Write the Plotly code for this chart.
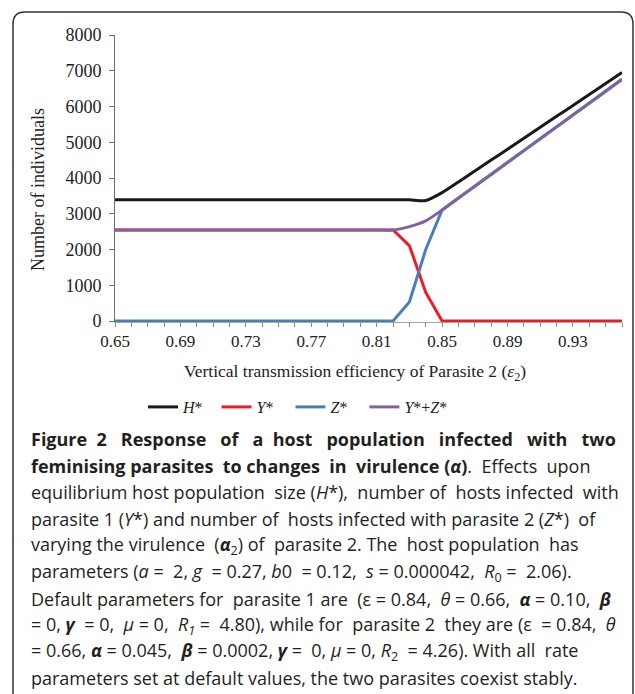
import plotly.graph_objects as go

# ---------------- data ----------------
eps2 = [0.65, 0.66, 0.67, 0.68, 0.69, 0.70, 0.71, 0.72, 0.73, 0.74, 0.75,
        0.76, 0.77, 0.78, 0.79, 0.80, 0.81, 0.82, 0.83, 0.84, 0.85, 0.86,
        0.87, 0.88, 0.89, 0.90, 0.91, 0.92, 0.93, 0.94, 0.95, 0.96]

H_star = [3390, 3390, 3390, 3390, 3390, 3390, 3390, 3390, 3390, 3390, 3390,
          3390, 3390, 3390, 3390, 3390, 3390, 3390, 3390, 3370, 3590, 3890,
          4195, 4500, 4805, 5110, 5420, 5725, 6030, 6335, 6640, 6950]

Y_star = [2545, 2545, 2545, 2545, 2545, 2545, 2545, 2545, 2545, 2545, 2545,
          2545, 2545, 2545, 2545, 2545, 2545, 2545, 2110, 800, 0, 0,
          0, 0, 0, 0, 0, 0, 0, 0, 0, 0]

Z_star = [0, 0, 0, 0, 0, 0, 0, 0, 0, 0, 0,
          0, 0, 0, 0, 0, 0, 0, 530, 2000, 3105, 3440,
          3770, 4100, 4435, 4765, 5100, 5430, 5760, 6095, 6425, 6760]

YZ_star = [y + z for y, z in zip(Y_star, Z_star)]

y_ticks = [0, 1000, 2000, 3000, 4000, 5000, 6000, 7000, 8000]
x_tick_labels = [0.65, 0.69, 0.73, 0.77, 0.81, 0.85, 0.89, 0.93]

caption_lines = [
    "<b>Figure 2 Response of a host population infected with two</b>",
    "<b>feminising parasites to changes in virulence (<i>α</i>)</b>. Effects upon",
    "equilibrium host population size (<i>H</i>*), number of hosts infected with",
    "parasite 1 (<i>Y</i>*) and number of hosts infected with parasite 2 (<i>Z</i>*) of",
    "varying the virulence (<b><i>α</i></b><sub>2</sub>) of parasite 2. The host population has",
    "parameters (<i>a</i> = 2, <i>g</i> = 0.27, <i>b</i>0 = 0.12, <i>s</i> = 0.000042, <i>R</i><sub>0</sub> = 2.06).",
    "Default parameters for parasite 1 are (ε = 0.84, <i>θ</i> = 0.66, <b><i>α</i></b> = 0.10, <b><i>β</i></b>",
    "= 0, <b><i>γ</i></b> = 0, <i>μ</i> = 0, <i>R</i><sub><i>1</i></sub> = 4.80), while for parasite 2 they are (ε = 0.84, <i>θ</i>",
    "= 0.66, <b><i>α</i></b> = 0.045, <b><i>β</i></b> = 0.0002, <b><i>γ</i></b> = 0, <i>μ</i> = 0, <i>R</i><sub>2</sub> = 4.26). With all rate",
    "parameters set at default values, the two parasites coexist stably.",
]
# extra word spacing (in non-breaking spaces) to imitate the justified caption
caption_extra_spaces = [16, 5, 4, 2, 4, 6, 5, 8, 4, 0]

# ---------------- layout geometry (pixels) ----------------
W, HGT = 635, 694
L, R, T, B = 115, 13, 35, 372
PW = W - L - R
PH = HGT - T - B
PLOT_BOTTOM = HGT - B


def pxx(x):
    return (x - L) / PW


def pxy(y):
    return (PLOT_BOTTOM - y) / PH


NB = "\u00a0"


def justify(line, extra):
    words = line.split(" ")
    gaps = len(words) - 1
    if gaps <= 0 or extra <= 0:
        return line
    out = words[0]
    for g in range(gaps):
        n = extra * (g + 1) // gaps - extra * g // gaps
        out += " " + NB * n + words[g + 1]
    return out


serif = "Liberation Serif, Times New Roman, serif"
sans = "Open Sans, Noto Sans, sans-serif"

fig = go.Figure()
series = [
    ("<i>H</i>*" + NB * 2, H_star, "#1a1a1a", "spline"),
    ("<i>Y</i>*" + NB * 3, Y_star, "#ee1c24", "linear"),
    ("<i>Z</i>*" + NB * 3, Z_star, "#4a7ebb", "linear"),
    ("<i>Y</i>*+<i>Z</i>*", YZ_star, "#7f62a1", "spline"),
]
for name, vals, col, shp in series:
    fig.add_trace(go.Scatter(
        x=eps2, y=vals, name=name, mode="lines",
        line=dict(color=col, width=3, shape=shp, smoothing=0.6 if shp == "spline" else None),
        hoverinfo="skip",
    ))

fig.update_xaxes(
    range=[0.65, 0.96], showgrid=False, zeroline=False,
    showline=True, linecolor="#a6a6a6", linewidth=1,
    tickmode="array", tickvals=x_tick_labels,
    ticktext=[f"{v:.2f}" for v in x_tick_labels],
    ticks="outside", ticklen=4, tickcolor="#8c8c8c", tickwidth=1,
    minor=dict(dtick=0.01, tick0=0.65, ticks="outside", ticklen=4,
               tickcolor="#8c8c8c", tickwidth=1, showgrid=False),
    tickfont=dict(family=serif, size=17, color="#222"),
)
fig.update_yaxes(
    range=[-28, 8000], showgrid=False, zeroline=False,
    showline=True, linecolor="#6e6e6e", linewidth=1,
    tickmode="array", tickvals=y_ticks, ticktext=[str(v) for v in y_ticks],
    ticks="outside", ticklen=5, tickcolor="#6e6e6e", tickwidth=1,
    ticklabelstandoff=4,
    tickfont=dict(family=serif, size=18, color="#222"),
)

annotations = [
    dict(text="Vertical transmission efficiency of Parasite 2 (<i>ε</i><sub>2</sub>)",
         x=pxx(355), y=pxy(372), xref="paper", yref="paper",
         xanchor="center", yanchor="middle", showarrow=False,
         font=dict(family=serif, size=17.5, color="#222")),
    dict(text="Number of individuals", textangle=-90,
         x=pxx(38), y=pxy(190), xref="paper", yref="paper",
         xanchor="center", yanchor="middle", showarrow=False,
         font=dict(family=serif, size=18, color="#222")),
]
cap_y0, cap_dy = 439, 26.6
for i, (line, extra) in enumerate(zip(caption_lines, caption_extra_spaces)):
    annotations.append(dict(
        text=justify(line, extra), x=pxx(29), y=pxy(cap_y0 + i * cap_dy),
        xref="paper", yref="paper", xanchor="left", yanchor="middle",
        showarrow=False, align="left",
        font=dict(family=sans, size=18, color="#231f20"),
    ))

border = (f"M {pxx(13)},{pxy(700)} L {pxx(13)},{pxy(24)} "
          f"Q {pxx(13)},{pxy(12)} {pxx(25)},{pxy(12)} "
          f"L {pxx(621)},{pxy(12)} Q {pxx(633)},{pxy(12)} {pxx(633)},{pxy(24)} "
          f"L {pxx(633)},{pxy(700)}")

fig.update_layout(
    width=W, height=HGT,
    margin=dict(l=L, r=R, t=T, b=B, pad=0),
    paper_bgcolor="white", plot_bgcolor="white",
    showlegend=True,
    legend=dict(orientation="h", x=pxx(143), y=pxy(407), xanchor="left", yanchor="middle",
                font=dict(family=serif, size=16, color="#222"),
                itemwidth=30,
                bgcolor="rgba(0,0,0,0)", borderwidth=0),
    annotations=annotations,
    shapes=[dict(type="path", path=border, xref="paper", yref="paper",
                 line=dict(color="#333333", width=1.5), layer="above")],
)

fig.write_html("out.html", config={"displayModeBar": False},
               post_script="document.body.style.margin='0';document.body.style.padding='0';")
